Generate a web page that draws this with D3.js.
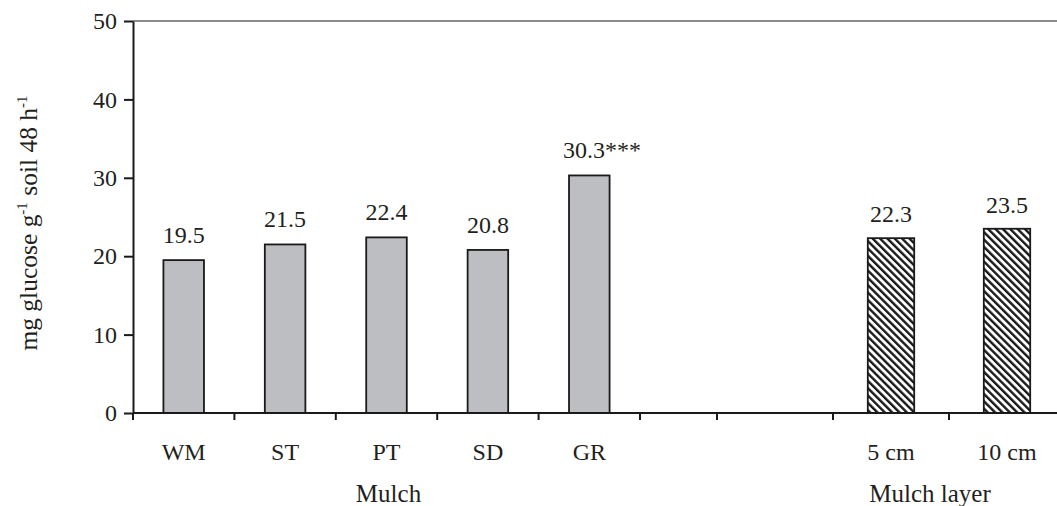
<!DOCTYPE html>
<html>
<head>
<meta charset="utf-8">
<script src="https://cdn.jsdelivr.net/npm/d3@7"></script>
<style>
  html, body { margin: 0; padding: 0; background: #ffffff; }
  svg { display: block; }
  text { font-family: "Liberation Serif", "Times New Roman", serif; fill: #231f20; }
</style>
</head>
<body>
<svg id="chart" width="1057" height="506"></svg>
<script>
// ---- data ----
const mulchCats = ["WM", "ST", "PT", "SD", "GR"];
const mulchValues = [19.5, 21.5, 22.4, 20.8, 30.3];
const mulchLabels = ["19.5", "21.5", "22.4", "20.8", "30.3***"];
const layerCats = ["", "5 cm", "10 cm"];
const layerBars = ["5 cm", "10 cm"];
const layerValues = [22.3, 23.5];
const layerLabels = ["22.3", "23.5"];
const yTicks = [0, 10, 20, 30, 40, 50];
const groupTitles = ["Mulch", "Mulch layer"];

// ---- layout ----
const plotLeft = 133, plotBottom = 413, plotTop = 21, plotRight = 1057;
const fontSize = 24;

const svg = d3.select("#chart");

const y = d3.scaleLinear().domain([0, 50]).range([plotBottom, plotTop]);
const xMulch = d3.scaleBand().domain(mulchCats).range([plotLeft, 640])
  .paddingInner(0.6).paddingOuter(0.3);
const xLayer = d3.scaleBand().domain(layerCats).range([717, 1065])
  .paddingInner(0.6).paddingOuter(0.3);

// hatch pattern
const defs = svg.append("defs");
const pat = defs.append("pattern")
  .attr("id", "hatch")
  .attr("patternUnits", "userSpaceOnUse")
  .attr("width", 5.2).attr("height", 5.2)
  .attr("patternTransform", "rotate(-45)");
pat.append("rect").attr("width", 5.2).attr("height", 5.2).attr("fill", "#ffffff");
pat.append("rect").attr("x", 0).attr("y", 0).attr("width", 2.4).attr("height", 5.2).attr("fill", "#1a1a1a");

// top border line
svg.append("line")
  .attr("x1", plotLeft).attr("x2", plotRight)
  .attr("y1", y(50)).attr("y2", y(50))
  .attr("stroke", "#8a8a8a").attr("stroke-width", 2);

// mulch bars
svg.append("g").selectAll("rect")
  .data(mulchCats)
  .join("rect")
  .attr("x", (d) => xMulch(d))
  .attr("width", xMulch.bandwidth())
  .attr("y", (d, i) => y(mulchValues[i]))
  .attr("height", (d, i) => y(0) - y(mulchValues[i]))
  .attr("fill", "#bdbec2")
  .attr("stroke", "#1a1a1a")
  .attr("stroke-width", 1.8);

// layer bars
svg.append("g").selectAll("rect")
  .data(layerBars)
  .join("rect")
  .attr("x", (d) => xLayer(d))
  .attr("width", xLayer.bandwidth())
  .attr("y", (d, i) => y(layerValues[i]))
  .attr("height", (d, i) => y(0) - y(layerValues[i]))
  .attr("fill", "url(#hatch)")
  .attr("stroke", "#1a1a1a")
  .attr("stroke-width", 1.8);

// value labels
svg.append("g").selectAll("text")
  .data(mulchCats)
  .join("text")
  .attr("x", (d) => xMulch(d) + xMulch.bandwidth() / 2)
  .attr("y", (d, i) => y(mulchValues[i]) - 17)
  .attr("text-anchor", (d, i) => mulchLabels[i].includes("*") ? "start" : "middle")
  .attr("dx", (d, i) => mulchLabels[i].includes("*") ? -xMulch.bandwidth() / 2 - 6 : 0)
  .attr("font-size", fontSize)
  .text((d, i) => mulchLabels[i]);

svg.append("g").selectAll("text")
  .data(layerBars)
  .join("text")
  .attr("x", (d) => xLayer(d) + xLayer.bandwidth() / 2)
  .attr("y", (d, i) => y(layerValues[i]) - 16)
  .attr("text-anchor", "middle")
  .attr("font-size", fontSize)
  .text((d, i) => layerLabels[i]);

// y axis
const yAxis = svg.append("g")
  .attr("transform", `translate(${plotLeft},0)`)
  .call(d3.axisLeft(y).tickValues(yTicks).tickSize(9).tickPadding(7).tickSizeOuter(0));
yAxis.select(".domain").attr("stroke", "#1a1a1a").attr("stroke-width", 2);
yAxis.selectAll(".tick line").attr("stroke", "#1a1a1a").attr("stroke-width", 2);
yAxis.selectAll(".tick text")
  .attr("font-size", fontSize)
  .attr("font-family", "Liberation Serif, serif")
  .attr("fill", "#231f20");

// x axis baseline
svg.append("line")
  .attr("x1", plotLeft).attr("x2", plotRight)
  .attr("y1", y(0)).attr("y2", y(0))
  .attr("stroke", "#1a1a1a").attr("stroke-width", 2);

// x tick marks between categories
const mulchTicks = d3.range(mulchCats.length + 1).map((i) => xMulch.range()[0] + i * xMulch.step());
const layerTicks = d3.range(layerCats.length + 1).map((i) => xLayer.range()[0] + i * xLayer.step());
svg.append("g").selectAll("line")
  .data(mulchTicks.concat(layerTicks))
  .join("line")
  .attr("x1", (d) => d).attr("x2", (d) => d)
  .attr("y1", y(0)).attr("y2", y(0) + 7)
  .attr("stroke", "#1a1a1a").attr("stroke-width", 2);

// category labels via axes
function catAxis(scale) {
  const g = svg.append("g")
    .attr("transform", `translate(0,${y(0)})`)
    .call(d3.axisBottom(scale).tickSize(0).tickPadding(30));
  g.select(".domain").remove();
  g.selectAll(".tick text")
    .attr("font-size", fontSize)
    .attr("font-family", "Liberation Serif, serif")
    .attr("fill", "#231f20");
  return g;
}
catAxis(xMulch);
catAxis(xLayer);

// group titles
svg.append("text")
  .attr("x", (xMulch.range()[0] + xMulch.range()[1]) / 2 + 2)
  .attr("y", 502)
  .attr("text-anchor", "middle")
  .attr("font-size", fontSize + 1)
  .text(groupTitles[0]);
svg.append("text")
  .attr("x", 930)
  .attr("y", 502)
  .attr("text-anchor", "middle")
  .attr("font-size", fontSize + 1)
  .text(groupTitles[1]);

// y axis title
const yt = svg.append("text")
  .attr("transform", `translate(37,${(y(0) + y(50)) / 2 + 6}) rotate(-90)`)
  .attr("text-anchor", "middle")
  .attr("font-size", 25.5);
yt.append("tspan").text("mg glucose g");
yt.append("tspan").attr("dy", -10).attr("font-size", 15).text("-1");
yt.append("tspan").attr("dy", 10).text(" soil 48 h");
yt.append("tspan").attr("dy", -10).attr("font-size", 15).text("-1");
</script>
</body>
</html>
